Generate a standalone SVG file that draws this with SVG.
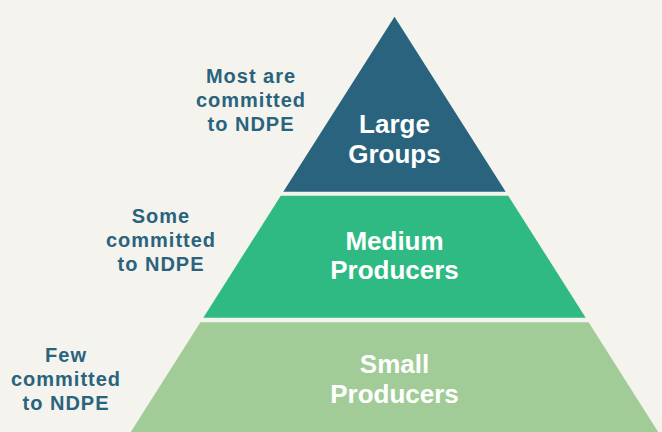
<svg xmlns="http://www.w3.org/2000/svg" width="662" height="432" viewBox="0 0 662 432">
<style>
.lbl{font-family:"Liberation Sans",Arial,sans-serif;font-weight:bold;text-anchor:middle}
.in{font-size:26px;fill:#ffffff}
.side{font-size:20px;fill:#2a637d;letter-spacing:1px}
</style>
<rect x="0" y="0" width="662" height="432" fill="#f4f3ed"/>
<g id="large-groups">
<polygon points="394.5,16.7 283.3,191.7 505.7,191.7" fill="#2a637e"/>
<text class="lbl in" x="394.5" y="133">Large</text>
<text class="lbl in" x="394.5" y="163">Groups</text>
</g>
<g id="medium-producers">
<polygon points="280.8,195.7 508.2,195.7 585.7,317.7 203.3,317.7" fill="#2fba83"/>
<text class="lbl in" x="394.5" y="250">Medium</text>
<text class="lbl in" x="394.5" y="279">Producers</text>
</g>
<g id="small-producers">
<polygon points="200.4,322.3 588.6,322.3 658.2,432 130.8,432" fill="#a2cc97"/>
<text class="lbl in" x="394.5" y="373">Small</text>
<text class="lbl in" x="394.5" y="403">Producers</text>
</g>
<g id="label-large">
<text class="lbl side" x="251" y="83">Most are</text>
<text class="lbl side" x="251" y="107">committed</text>
<text class="lbl side" x="251" y="131">to NDPE</text>
</g>
<g id="label-medium">
<text class="lbl side" x="161" y="223">Some</text>
<text class="lbl side" x="161" y="247">committed</text>
<text class="lbl side" x="161" y="271">to NDPE</text>
</g>
<g id="label-small">
<text class="lbl side" x="66" y="362">Few</text>
<text class="lbl side" x="66" y="386">committed</text>
<text class="lbl side" x="66" y="410">to NDPE</text>
</g>
<g id="connectors"></g>
</svg>
